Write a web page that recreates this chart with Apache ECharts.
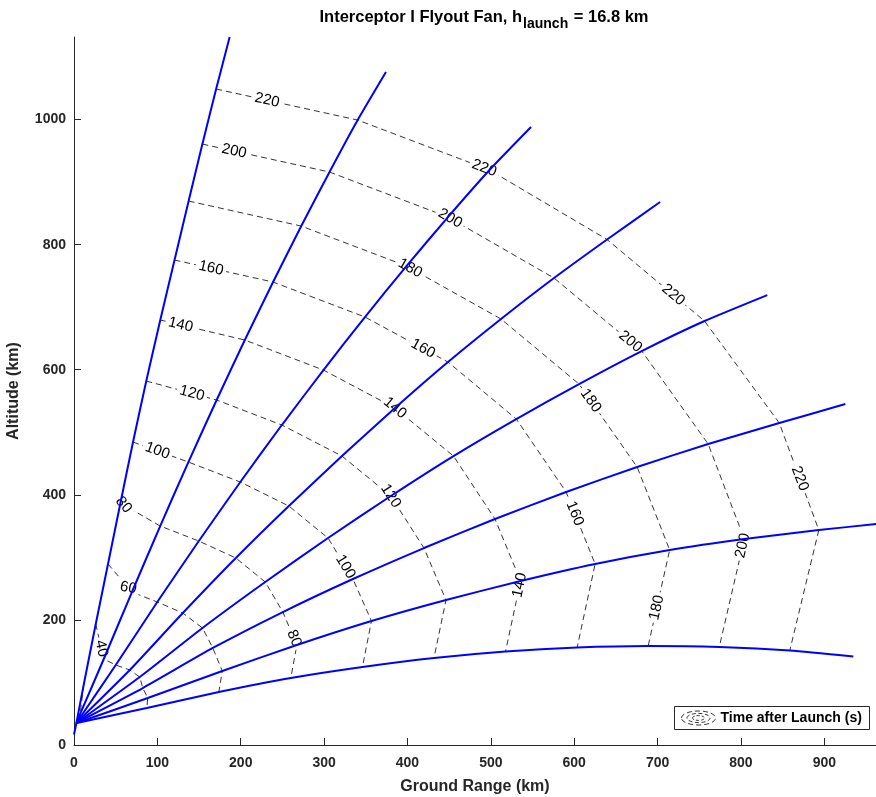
<!DOCTYPE html>
<html>
<head>
<meta charset="utf-8">
<script src="https://cdn.jsdelivr.net/npm/echarts@6/dist/echarts.min.js"></script>
<style>
  html, body { margin: 0; padding: 0; background: #ffffff; }
  #chart { width: 876px; height: 797px; }
</style>
</head>
<body>
<div id="chart"></div>
<script>
// Launch geometry (km): ground range, altitude
const launchPoint = [0, 16.8];
const pitchPoint = [2.9, 35.2];

// Sample times along each flyout (s); the last entry is the end of the flyout
const flyoutTimes = [20, 40, 60, 80, 100, 120, 140, 160, 180, 200, 220, 240];

// Time contours that are drawn (s)
const contourLevels = [20, 40, 60, 80, 100, 120, 140, 160, 180, 200, 220];

// Flyout positions [ground range km, altitude km] at each entry of flyoutTimes
const flyout1 = [[11.6, 95.9], [26.1, 193.4], [40.8, 289.4], [55.7, 386.9], [70.8, 484.4], [86.7, 581.9],
                 [103.5, 679.5], [120.6, 775.4], [137.5, 869.7], [154.0, 960.8], [170.5, 1048.8], [186.7, 1131.9]];
const flyout2 = [[7.4, 49.6], [35.7, 137.5], [69.5, 244.6], [103.4, 350.1], [137.2, 452.4], [171.1, 551.6],
                 [204.9, 647.5], [238.8, 740.2], [272.6, 829.7], [306.5, 916.1], [340.3, 999.2], [374.2, 1075.9]];
const flyout3 = [[7.6, 44.4], [50.1, 127.9], [99.9, 228.6], [149.7, 326.1], [199.5, 420.5], [249.3, 511.6],
                 [299.2, 599.5], [349.0, 684.3], [398.8, 765.8], [448.6, 844.1], [498.4, 919.3], [548.2, 988.0]];
const flyout4 = [[9.2, 43.6], [66.9, 119.9], [130.5, 211.0], [194.1, 299.0], [257.7, 382.1], [321.4, 462.0],
                 [385.0, 538.8], [448.6, 612.3], [512.2, 681.1], [575.8, 746.6], [639.4, 808.2], [703.0, 868.1]];
const flyout5 = [[9.0, 41.1], [78.9, 108.7], [154.1, 187.1], [229.4, 260.6], [304.7, 330.9], [380.0, 398.1],
                 [455.2, 462.0], [530.5, 521.2], [605.8, 577.1], [681.0, 629.9], [756.3, 677.9], [831.6, 719.4]];
const flyout6 = [[8.4, 39.2], [82.5, 91.1], [166.5, 155.1], [250.5, 212.6], [334.6, 265.4], [419.8, 314.9],
                 [505.0, 361.3], [590.3, 404.5], [675.5, 444.4], [760.7, 481.2], [846.0, 514.8], [925.2, 545.2]];
const flyout7 = [[8.9, 37.9], [88.5, 75.1], [177.9, 118.3], [267.3, 159.9], [356.8, 198.2], [446.2, 231.8],
                 [535.7, 262.2], [625.1, 289.4], [714.5, 311.8], [804.0, 329.3], [893.4, 343.7], [962.4, 353.3]];
const flyout8 = [[8.8, 36.8], [87.3, 59.2], [173.7, 84.7], [260.1, 107.1], [346.0, 124.7], [431.8, 139.1],
                 [517.6, 149.5], [603.5, 155.9], [688.7, 158.3], [774.0, 156.7], [858.6, 151.1], [934.8, 141.5]];

const flyouts = [flyout1, flyout2, flyout3, flyout4, flyout5, flyout6, flyout7, flyout8];

// Axis ticks
const rangeTicks = [0, 100, 200, 300, 400, 500, 600, 700, 800, 900];
const altitudeTicks = [0, 200, 400, 600, 800, 1000];

// Inline contour labels: contour level, the pair of flyouts it sits between, how far along,
// and an optional text angle (deg) where the contour bends sharply next to the steepest flyout
const contourLabels = [
  { level: 40, seg: 0, f: 0.7 },
  { level: 60, seg: 0, f: 0.85, tilt: 12 },
  { level: 80, seg: 0, f: 0.08, tilt: 50 },
  { level: 100, seg: 0, f: 0.44 },
  { level: 120, seg: 0, f: 0.65 },
  { level: 140, seg: 0, f: 0.24 },
  { level: 160, seg: 0, f: 0.37 },
  { level: 200, seg: 0, f: 0.25 },
  { level: 220, seg: 0, f: 0.36 },
  { level: 220, seg: 1, f: 0.96 },
  { level: 200, seg: 2, f: 0.02 },
  { level: 180, seg: 2, f: 0.04 },
  { level: 160, seg: 2, f: 0.7 },
  { level: 140, seg: 3, f: 0.0 },
  { level: 120, seg: 4, f: 0.0 },
  { level: 100, seg: 4, f: 0.7 },
  { level: 80, seg: 5, f: 0.8 },
  { level: 220, seg: 3, f: 0.68 },
  { level: 200, seg: 3, f: 0.87 },
  { level: 180, seg: 4, f: 0.2 },
  { level: 160, seg: 5, f: 0.3 },
  { level: 140, seg: 6, f: 0.06 },
  { level: 220, seg: 5, f: 0.52 },
  { level: 200, seg: 6, f: 0.06 },
  { level: 180, seg: 6, f: 0.6 }
];

const X_MAX = 962;
const Y_MAX = 1132;
const FONT = '"Liberation Sans", Arial, Helvetica, sans-serif';
const AXIS_COLOR = '#262626';

function pointAt(level, trajIndex) {
  const k = flyoutTimes.indexOf(level);
  return flyouts[trajIndex][k];
}

const series = [];

// Dashed time contours through the flyouts
contourLevels.forEach(function (level) {
  series.push({
    type: 'line',
    name: 'Time after Launch (s)',
    data: flyouts.map(function (_, i) { return pointAt(level, i); }),
    showSymbol: false,
    symbol: 'none',
    silent: true,
    z: 1,
    lineStyle: { color: '#000000', width: 0.8, type: [6, 4] }
  });
});

// Contour labels, rotated along their contour and blanking the line behind them
const labelData = contourLabels.map(function (lb) {
  const a = pointAt(lb.level, lb.seg);
  const b = pointAt(lb.level, lb.seg + 1);
  return [a[0] + (b[0] - a[0]) * lb.f, a[1] + (b[1] - a[1]) * lb.f, lb.level, lb.seg,
          lb.tilt === undefined ? NaN : lb.tilt];
});

series.push({
  type: 'custom',
  coordinateSystem: 'cartesian2d',
  silent: true,
  z: 2,
  clip: false,
  data: labelData,
  encode: { x: 0, y: 1 },
  renderItem: function (params, api) {
    const level = api.value(2);
    const seg = api.value(3);
    const tilt = api.value(4);
    const p = api.coord([api.value(0), api.value(1)]);
    let ang;
    if (isNaN(tilt)) {
      const a = api.coord(pointAt(level, seg));
      const b = api.coord(pointAt(level, seg + 1));
      ang = Math.atan2(b[1] - a[1], b[0] - a[0]);
      if (ang > Math.PI / 2) ang -= Math.PI;
      if (ang < -Math.PI / 2) ang += Math.PI;
    } else {
      ang = tilt * Math.PI / 180;
    }
    return {
      type: 'text',
      x: p[0],
      y: p[1],
      rotation: -ang,
      style: {
        text: String(level),
        fontFamily: FONT,
        fontSize: 15,
        fill: '#000000',
        align: 'center',
        verticalAlign: 'middle',
        backgroundColor: '#ffffff',
        padding: [0, 3]
      }
    };
  }
});

// Flyout trajectories
series.push({
  type: 'line',
  data: [launchPoint, pitchPoint],
  showSymbol: false,
  symbol: 'none',
  silent: true,
  z: 3,
  lineStyle: { color: '#0000ff', width: 2 }
});
flyouts.forEach(function (traj) {
  series.push({
    type: 'line',
    data: [pitchPoint].concat(traj),
    smooth: 0.2,
    showSymbol: false,
    symbol: 'none',
    silent: true,
    z: 3,
    lineStyle: { color: '#0000ff', width: 2 }
  });
});

const chart = echarts.init(document.getElementById('chart'), null, { renderer: 'canvas' });

chart.setOption({
  backgroundColor: '#ffffff',
  animation: false,
  title: {
    text: '{a|Interceptor I Flyout Fan, h}{s|launch}{a| = 16.8 km}',
    left: 479,
    textAlign: 'center',
    top: 4,
    textStyle: {
      rich: {
        a: { fontFamily: FONT, fontWeight: 'bold', fontSize: 16.5, color: '#000000', lineHeight: 22, verticalAlign: 'top' },
        s: { fontFamily: FONT, fontWeight: 'bold', fontSize: 14, color: '#000000', lineHeight: 22, verticalAlign: 'bottom', padding: [10, 1, 0, 1] }
      }
    }
  },
  grid: { left: 74, top: 37, width: 802, height: 708, containLabel: false, outerBoundsMode: 'none' },
  xAxis: {
    type: 'value',
    min: 0,
    max: X_MAX,
    name: 'Ground Range (km)',
    nameLocation: 'middle',
    nameGap: 34,
    nameTextStyle: { fontFamily: FONT, fontWeight: 'bold', fontSize: 16, color: AXIS_COLOR },
    axisLine: { show: true, onZero: false, lineStyle: { color: AXIS_COLOR, width: 1 } },
    axisTick: { show: true, inside: true, length: 7, customValues: rangeTicks, lineStyle: { color: AXIS_COLOR, width: 1 } },
    axisLabel: {
      customValues: rangeTicks,
      formatter: function (v) { return String(v); },
      margin: 11,
      fontFamily: FONT,
      fontWeight: 'bold',
      fontSize: 14,
      color: AXIS_COLOR
    },
    splitLine: { show: false }
  },
  yAxis: {
    type: 'value',
    min: 0,
    max: Y_MAX,
    name: 'Altitude (km)',
    nameLocation: 'middle',
    nameGap: 52,
    nameTextStyle: { fontFamily: FONT, fontWeight: 'bold', fontSize: 16, color: AXIS_COLOR },
    axisLine: { show: true, onZero: false, lineStyle: { color: AXIS_COLOR, width: 1 } },
    axisTick: { show: true, inside: true, length: 7, customValues: altitudeTicks, lineStyle: { color: AXIS_COLOR, width: 1 } },
    axisLabel: {
      customValues: altitudeTicks,
      formatter: function (v) { return String(v); },
      margin: 8,
      fontFamily: FONT,
      fontWeight: 'bold',
      fontSize: 14,
      color: AXIS_COLOR
    },
    splitLine: { show: false }
  },
  graphic: [
    {
      type: 'group',
      left: 674,
      top: 706,
      z: 100,
      children: [
        { type: 'rect', shape: { x: 0, y: 0, width: 195, height: 23 },
          style: { fill: '#ffffff', stroke: AXIS_COLOR, lineWidth: 1 } },
        { type: 'ellipse', shape: { cx: 24, cy: 11.5, rx: 17, ry: 7 },
          style: { fill: 'none', stroke: '#000000', lineWidth: 0.8, lineDash: [5, 3] } },
        { type: 'ellipse', shape: { cx: 24, cy: 11.5, rx: 11.5, ry: 4.6 },
          style: { fill: 'none', stroke: '#000000', lineWidth: 0.8, lineDash: [4, 2.5] } },
        { type: 'ellipse', shape: { cx: 24, cy: 11.5, rx: 6, ry: 2.4 },
          style: { fill: 'none', stroke: '#000000', lineWidth: 0.8, lineDash: [3, 2] } },
        { type: 'text', x: 46, y: 12,
          style: { text: 'Time after Launch (s)', fontFamily: FONT, fontWeight: 'bold', fontSize: 14,
                   fill: '#000000', verticalAlign: 'middle', align: 'left' } }
      ]
    }
  ],
  series: series
});
</script>
</body>
</html>
